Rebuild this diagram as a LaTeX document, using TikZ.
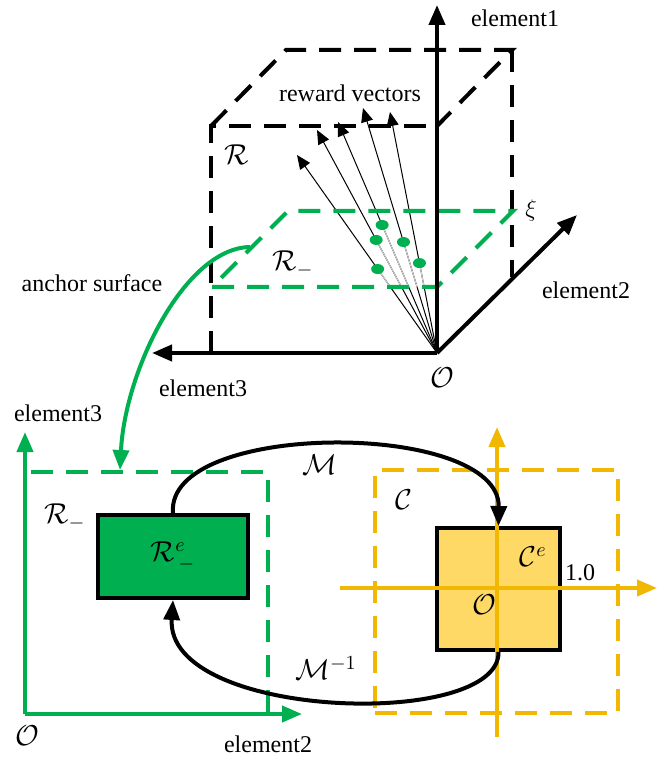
\documentclass[tikz,border=0pt]{standalone}
\usepackage{amsmath,amssymb}
\usepackage{fontspec}
\setmainfont{Liberation Serif}
\usepackage{xcolor}
\usetikzlibrary{arrows.meta,positioning,calc}
\definecolor{ancgreen}{RGB}{0,176,80}
\definecolor{cubegold}{RGB}{242,183,0}
\definecolor{cubefill}{RGB}{255,217,102}

\begin{document}
\begin{tikzpicture}[
  x=0.5pt, y=-0.5pt,
  every node/.style={font=\fontsize{12}{14}\selectfont, inner sep=1pt},
  mathlbl/.style={font=\fontsize{14}{16}\selectfont},
  axis/.style={line width=2pt, -{Triangle[length=10pt,width=8pt]}},
  dashedge/.style={line width=2pt, dash pattern=on 11pt off 6.5pt},
  vec/.style={line width=0.5pt, -{Triangle[length=7pt,width=6pt]}},
  hidden/.style={line width=0.5pt, gray!35},
  link/.style={line width=2pt, -{Triangle[length=10pt,width=8pt]}},
  regbox/.style={draw, line width=2pt, inner sep=0pt},
  setbox/.style={draw, dashedge, inner sep=0pt},
]
\useasboundingbox (0,0) rectangle (667,758);
% reward space (top cube)
\coordinate (O) at (437,353);
\coordinate (e1) at (437,5);
\coordinate (e2) at (577,215);
\coordinate (e3) at (152,353);
\coordinate (ftr) at (437,126);
\coordinate (ftl) at (211,126);
\coordinate (fbl) at (211,353);
\coordinate (btl) at (286,50);
\coordinate (btr) at (512,50);
\coordinate (bbr) at (512,277);
\draw[dashedge] (fbl) -- (ftl) -- (ftr);
\draw[dashedge] (ftl) -- (btl) -- (btr) -- (ftr);
\draw[dashedge] (btr) -- (bbr);
% reward vectors through the anchor surface
\foreach \tx/\ty/\f/\g [count=\i] in {297/155/0.424/0.333, 317/130/0.507/0.296,
    338/122/0.554/0.286, 363/108/0.453/0.269, 390/112/0.373/0.274}{
  \coordinate (tip\i) at (\tx,\ty);
  \draw[vec] (O) -- (tip\i);
  \draw[hidden] ($(O)!\g!(tip\i)$) -- ($(O)!\f!(tip\i)$);
  \fill[ancgreen] ($(O)!\f!(tip\i)$) ellipse [x radius=6.5, y radius=5];
}
% anchor surface
\coordinate (p1) at (212,287);
\coordinate (p2) at (437,287);
\coordinate (p3) at (513,211);
\coordinate (p4) at (288,211);
\draw[dashedge, ancgreen] (p1) -- (p2) -- (p3) -- (p4) -- cycle;
\draw[axis] (O) -- (e1);
\draw[axis] (O) -- (e2);
\draw[axis] (O) -- (e3);
\node (lblE1) at (515,18) {element1};
\node (lblE2) at (586,290) {element2};
\node (lblE3) at (203,388) {element3};
\node[mathlbl] (lblO) at (442,378) {$\mathcal{O}$};
\node (lblRV) at (350,93) {reward vectors};
\node[mathlbl] (lblR) at (237,155) {$\mathcal{R}$};
\node[mathlbl] (lblRm) at (293,264) {$\mathcal{R}_{-}$};
\node (lblXi) at (531,211) {$\xi$};
\node (lblAnc) at (92,283) {anchor surface};
% anchor surface -> flat space
\coordinate (anc) at (250,247);
\coordinate (ancEnd) at (120,470);
\draw[line width=2pt, ancgreen, -{Triangle[length=10pt,width=8pt]}]
  (anc) .. controls (185,248) and (125,370) .. (ancEnd);
% flat anchor space (bottom left)
\coordinate (Ol) at (25,714);
\coordinate (Ol3) at (25,432);
\coordinate (Ol2) at (302,714);
\node[setbox, ancgreen, minimum width=121.5pt, minimum height=121pt] (Rset) at (146.5,593) {};
\draw[axis, ancgreen] (Ol) -- (Ol3);
\draw[axis, ancgreen] (Ol) -- (Ol2);
\node[regbox, fill=ancgreen, minimum width=75pt, minimum height=41.5pt, mathlbl] (Re) at (173,556.5) {$\mathcal{R}^{e}_{\,-}$};
\node (lblE3b) at (58,413) {element3};
\node[mathlbl] (lblOl) at (27,736) {$\mathcal{O}$};
\node (lblE2b) at (268,744) {element2};
\node[mathlbl] (lblRmb) at (65,517) {$\mathcal{R}_{-}$};
% canonical space (bottom right)
\coordinate (Cv0) at (497,737);
\coordinate (Cv1) at (497,427);
\coordinate (Ch0) at (340,588);
\coordinate (Ch1) at (657,588);
\node[setbox, cubegold, minimum width=121.5pt, minimum height=121.5pt] (Cset) at (496.5,591.5) {};
\node[regbox, fill=cubefill, minimum width=61.5pt, minimum height=61pt] (Ce) at (498.5,589) {};
\draw[axis, cubegold] (Cv0) -- (Cv1);
\draw[axis, cubegold] (Ch0) -- (Ch1);
\node[mathlbl] (lblC) at (404,500) {$\mathcal{C}$};
\node[mathlbl] (lblCe) at (533,557) {$\mathcal{C}^{e}$};
\node (lblOne) at (580,573) {1.0};
\node[mathlbl] (lblOc) at (484,605) {$\mathcal{O}$};
% mapping and inverse
\draw[link] (Re.north) .. controls (165,420) and (500,420) .. (Ce.north);
\draw[link] (Ce.south) .. controls (500,730) and (165,720) .. (Re.south);
\node[mathlbl] (lblM) at (320,465) {$\mathcal{M}$};
\node[mathlbl] (lblMinv) at (326,668) {$\mathcal{M}^{-1}$};
\end{tikzpicture}
\end{document}
